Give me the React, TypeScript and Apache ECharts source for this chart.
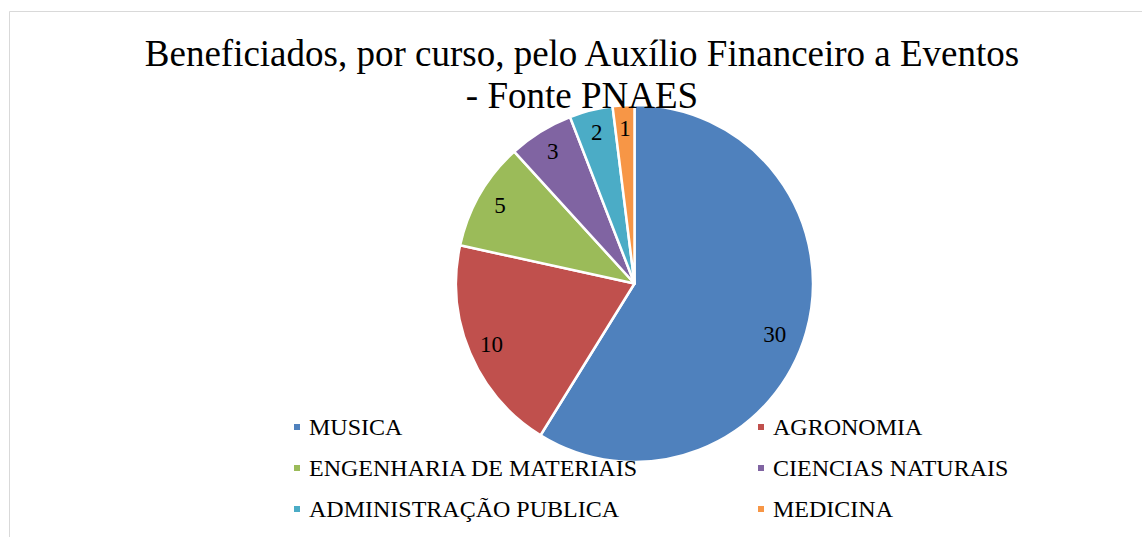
import React, { useEffect, useRef } from "react";
import * as echarts from "echarts";

const categories = [
  "MUSICA",
  "AGRONOMIA",
  "ENGENHARIA DE MATERIAIS",
  "CIENCIAS NATURAIS",
  "ADMINISTRAÇÃO PUBLICA",
  "MEDICINA",
];
const values = [30, 10, 5, 3, 2, 1];
const colors = ["#4F81BD", "#C0504D", "#9BBB59", "#8064A2", "#4BACC6", "#F79646"];
const leftLegend = ["MUSICA", "ENGENHARIA DE MATERIAIS", "ADMINISTRAÇÃO PUBLICA"];
const rightLegend = ["AGRONOMIA", "CIENCIAS NATURAIS", "MEDICINA"];
const titleText = "Beneficiados, por curso, pelo Auxílio Financeiro a Eventos\n- Fonte PNAES";

const FONT = "'Liberation Serif', 'Times New Roman', serif";

export default function App() {
  const ref = useRef<HTMLDivElement>(null);
  useEffect(() => {
    if (!ref.current) return;
    const chart = echarts.init(ref.current, null, { renderer: "svg" });
    const data = categories.map((name, i) => ({
      name,
      value: values[i],
      itemStyle: { color: colors[i] },
    }));
    const legendBase = {
      orient: "vertical" as const,
      top: 415,
      itemWidth: 8,
      itemHeight: 8,
      icon: "rect",
      itemGap: 17,
      padding: 0,
      selectedMode: false,
      textStyle: {
        fontFamily: FONT,
        fontSize: 24,
        color: "#000",
        lineHeight: 24,
        padding: [0, 0, 0, 3],
      },
    };
    chart.setOption({
      animation: false,
      backgroundColor: "#fff",
      title: {
        text: titleText,
        left: 577,
        top: 27,
        textAlign: "center",
        textStyle: {
          fontFamily: FONT,
          fontSize: 37,
          fontWeight: "normal",
          color: "#000",
          lineHeight: 42,
        },
      },
      graphic: [
        {
          type: "rect",
          silent: true,
          z: -10,
          shape: { x: 9.5, y: 11.5, width: 1200, height: 600 },
          style: { fill: "none", stroke: "#d9d9d9", lineWidth: 1 },
        },
      ],
      legend: [
        { ...legendBase, left: 292, data: leftLegend },
        { ...legendBase, left: 756, data: rightLegend },
      ],
      series: [
        {
          type: "pie",
          center: [634.5, 283.5],
          radius: [0, 178.5],
          startAngle: 90,
          clockwise: true,
          silent: true,
          label: { show: false },
          labelLine: { show: false },
          itemStyle: { borderColor: "#fff", borderWidth: 2.5 },
          data,
        },
        {
          type: "pie",
          center: [634.5, 283.5],
          radius: [126, 178.5],
          startAngle: 90,
          clockwise: true,
          silent: true,
          avoidLabelOverlap: false,
          itemStyle: { color: "transparent", borderWidth: 0 },
          label: {
            show: true,
            position: "inside",
            formatter: "{c}",
            fontFamily: FONT,
            fontSize: 23,
            color: "#000",
          },
          labelLine: { show: false },
          data: categories.map((name, i) =>
            i === 0
              ? { name, value: values[i], label: { offset: [-9, 9] } }
              : { name, value: values[i] }
          ),
        },
      ],
    });
    return () => chart.dispose();
  }, []);
  return (
    <div
      ref={ref}
      style={{ position: "fixed", left: 0, top: 0, width: 1142, height: 537 }}
    />
  );
}
